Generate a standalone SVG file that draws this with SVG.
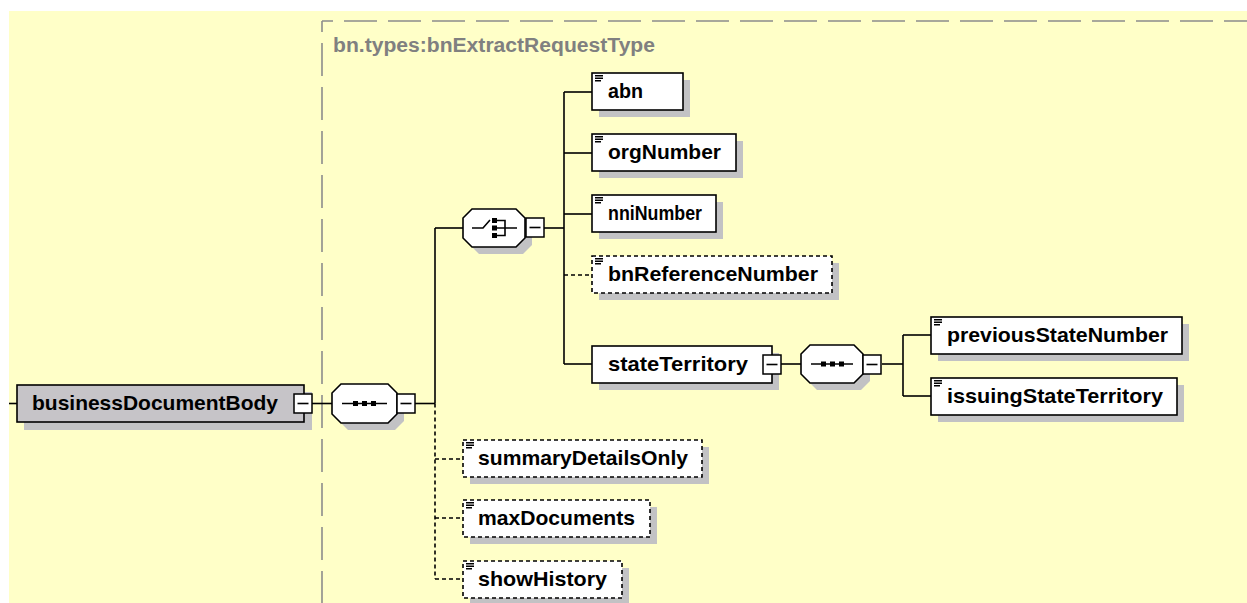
<svg xmlns="http://www.w3.org/2000/svg" xmlns:xlink="http://www.w3.org/1999/xlink" width="1247" height="603" viewBox="0 0 1247 603">
<style>
.bg{fill:#FFFFC8}
.box{fill:#FFFFFF;stroke:#000;stroke-width:1.6}
.gbox{fill:#C6C4C8;stroke:#000;stroke-width:1.6}
.opt{stroke-dasharray:4 3}
.sh{fill:#C2C2C4}
.t{font-family:"Liberation Sans",Arial,sans-serif;font-weight:bold;font-size:21px;fill:#000}
.lbl{font-family:"Liberation Sans",Arial,sans-serif;font-weight:bold;font-size:20px;fill:#808080}
.ln{stroke:#000;stroke-width:1.6;fill:none}
.dl{stroke-dasharray:4 3}
.frame{stroke:#8C8C8C;stroke-width:1.6;fill:none;stroke-dasharray:33 11;stroke-dashoffset:22}
.btn{fill:#FFFFFF;stroke:#000;stroke-width:1.5}
.ic{stroke:#000;stroke-width:1.6;fill:none}
.dic{stroke:#000;stroke-width:1.5;fill:none}
.dot{fill:#000}
</style>
<defs>
<g id="doc">
<path d="M0 0.8H8M0 3.3H8M0 5.8H6" class="dic"/>
</g>
<g id="minus">
<rect x="0" y="0" width="18" height="19" class="btn"/>
<path d="M3.5 9.5H14.5" class="ic"/>
</g>
</defs>
<rect x="0" y="0" width="1247" height="603" fill="#FFFFFF"/>
<rect x="9" y="11" width="1238" height="592" class="bg"/>
<g id="typeframe">
<path d="M322 21H1247" class="frame"/>
<path d="M322 21V603" class="frame"/>
<text x="333" y="52" class="lbl" textLength="322" lengthAdjust="spacingAndGlyphs">bn.types:bnExtractRequestType</text>
</g>
<g id="connectors">
<path d="M9 403.5H17" class="ln"/>
<path d="M312 403.5H332" class="ln"/>
<path d="M415 403.5H435" class="ln"/>
<path d="M435 228V403.5" class="ln"/>
<path d="M435 403.5V579" class="ln dl"/>
<path d="M435 228H463" class="ln"/>
<path d="M435 459H463" class="ln dl"/>
<path d="M435 518H463" class="ln dl"/>
<path d="M435 579H463" class="ln dl"/>
<path d="M544 228H564" class="ln"/>
<path d="M564 92V364" class="ln"/>
<path d="M564 92H592" class="ln"/>
<path d="M564 153H592" class="ln"/>
<path d="M564 214H592" class="ln"/>
<path d="M564 275H592" class="ln dl"/>
<path d="M564 364H592" class="ln"/>
<path d="M781 364H801" class="ln"/>
<path d="M882 364H903" class="ln"/>
<path d="M903 335V396" class="ln"/>
<path d="M903 335H931" class="ln"/>
<path d="M903 396H931" class="ln"/>
</g>
<g id="businessDocumentBody">
<rect x="24" y="392" width="288" height="38" class="sh"/>
<rect x="17" y="385" width="287" height="37" class="gbox"/>
<text x="32" y="410" class="t" textLength="246" lengthAdjust="spacingAndGlyphs">businessDocumentBody</text>
<use xlink:href="#minus" x="294" y="394"/>
</g>
<g id="sequence1">
<path d="M348 391H395L404 400V421L395 430H348L339 421V400Z" class="sh"/>
<path d="M341 384H388L397 393V414L388 423H341L332 414V393Z" class="box"/>
<path d="M342 403.5H387" class="ic"/>
<rect x="353" y="401" width="5" height="5" class="dot"/>
<rect x="362" y="401" width="5" height="5" class="dot"/>
<rect x="371" y="401" width="5" height="5" class="dot"/>
<use xlink:href="#minus" x="397" y="394"/>
</g>
<g id="choice">
<path d="M479 216H523L532 225V245L523 254H479L470 245V225Z" class="sh"/>
<path d="M472 209H516L525 218V238L516 247H472L463 238V218Z" class="box"/>
<path d="M472 228H483L490 220" class="ic"/>
<rect x="492" y="218" width="5" height="5" class="dot"/>
<rect x="492" y="225.5" width="5" height="5" class="dot"/>
<rect x="492" y="233" width="5" height="5" class="dot"/>
<path d="M497 220.5H505V235.5H497M497 228H517" class="ic"/>
<use xlink:href="#minus" x="526" y="218"/>
</g>
<g id="abn">
<rect x="599" y="80" width="91" height="37" class="sh"/>
<rect x="592" y="73" width="91" height="37" class="box"/>
<use xlink:href="#doc" x="595" y="75"/>
<text x="608" y="98" class="t" textLength="35" lengthAdjust="spacingAndGlyphs">abn</text>
</g>
<g id="orgNumber">
<rect x="599" y="141" width="144" height="37" class="sh"/>
<rect x="592" y="134" width="144" height="37" class="box"/>
<use xlink:href="#doc" x="595" y="136"/>
<text x="608" y="159" class="t" textLength="113" lengthAdjust="spacingAndGlyphs">orgNumber</text>
</g>
<g id="nniNumber">
<rect x="599" y="202" width="124" height="37" class="sh"/>
<rect x="592" y="195" width="124" height="37" class="box"/>
<use xlink:href="#doc" x="595" y="197"/>
<text x="608" y="220" class="t" textLength="94" lengthAdjust="spacingAndGlyphs">nniNumber</text>
</g>
<g id="bnReferenceNumber">
<rect x="599" y="263" width="240" height="37" class="sh"/>
<rect x="592" y="256" width="240" height="37" class="box opt"/>
<use xlink:href="#doc" x="595" y="258"/>
<text x="608" y="281" class="t" textLength="210" lengthAdjust="spacingAndGlyphs">bnReferenceNumber</text>
</g>
<g id="stateTerritory">
<rect x="599" y="353" width="180" height="37" class="sh"/>
<rect x="592" y="346" width="180" height="37" class="box"/>
<text x="608" y="371" class="t" textLength="140" lengthAdjust="spacingAndGlyphs">stateTerritory</text>
<use xlink:href="#minus" x="763" y="355"/>
</g>
<g id="sequence2">
<path d="M817 352H861L870 361V381L861 390H817L808 381V361Z" class="sh"/>
<path d="M810 345H854L863 354V374L854 383H810L801 374V354Z" class="box"/>
<path d="M811 364H853" class="ic"/>
<rect x="821" y="361.5" width="5" height="5" class="dot"/>
<rect x="830" y="361.5" width="5" height="5" class="dot"/>
<rect x="839" y="361.5" width="5" height="5" class="dot"/>
<use xlink:href="#minus" x="863" y="355"/>
</g>
<g id="previousStateNumber">
<rect x="938" y="324" width="251" height="37" class="sh"/>
<rect x="931" y="317" width="251" height="37" class="box"/>
<use xlink:href="#doc" x="934" y="319"/>
<text x="947" y="342" class="t" textLength="221" lengthAdjust="spacingAndGlyphs">previousStateNumber</text>
</g>
<g id="issuingStateTerritory">
<rect x="938" y="385" width="246" height="37" class="sh"/>
<rect x="931" y="378" width="246" height="37" class="box"/>
<use xlink:href="#doc" x="934" y="380"/>
<text x="947" y="403" class="t" textLength="216" lengthAdjust="spacingAndGlyphs">issuingStateTerritory</text>
</g>
<g id="summaryDetailsOnly">
<rect x="470" y="447" width="239" height="37" class="sh"/>
<rect x="463" y="440" width="239" height="37" class="box opt"/>
<use xlink:href="#doc" x="466" y="442"/>
<text x="478" y="465" class="t" textLength="210" lengthAdjust="spacingAndGlyphs">summaryDetailsOnly</text>
</g>
<g id="maxDocuments">
<rect x="470" y="507" width="187" height="37" class="sh"/>
<rect x="463" y="500" width="187" height="37" class="box opt"/>
<use xlink:href="#doc" x="466" y="502"/>
<text x="478" y="525" class="t" textLength="157" lengthAdjust="spacingAndGlyphs">maxDocuments</text>
</g>
<g id="showHistory">
<rect x="470" y="568" width="159" height="37" class="sh"/>
<rect x="463" y="561" width="159" height="37" class="box opt"/>
<use xlink:href="#doc" x="466" y="563"/>
<text x="478" y="586" class="t" textLength="129" lengthAdjust="spacingAndGlyphs">showHistory</text>
</g>
</svg>
